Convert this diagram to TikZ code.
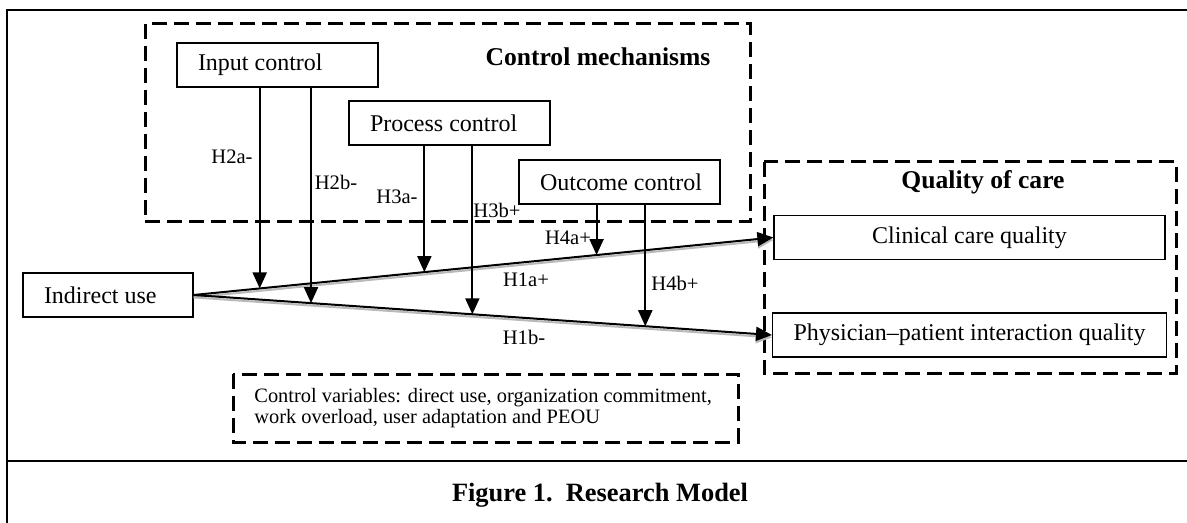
\documentclass[tikz,border=0pt]{standalone}
\usepackage{fontspec}
\setmainfont{Liberation Serif}
\usetikzlibrary{arrows.meta}

\tikzset{
  box/.style={draw, line width=0.6pt, minimum height=22pt, inner xsep=10.5pt, align=flush left},
  dbox/.style={draw, line width=1.5pt, dash pattern=on 7.5pt off 3.5pt},
  arr/.style={line width=1pt, -{Triangle[length=8pt,width=7pt]}},
  shadowline/.style={arr, gray!55, transform canvas={yshift=-1.2pt}},
  hyp/.style={font=\fontsize{10.3}{12}\selectfont},
}

\begin{document}
\begin{tikzpicture}[x=0.5pt, y=-0.5pt, font=\fontsize{12}{14}\selectfont]
      \useasboundingbox (0,0) rectangle (1187,523);

      % 外枠
      \draw[line width=1.2pt] (6.7,523) -- (6.7,10) -- (1187,10);
      \draw[line width=1.2pt] (6.7,461) -- (1187,461);

      \draw[dbox] (145,24) rectangle (750,222);
      \node[font=\bfseries\fontsize{12.8}{14}\selectfont] (cmt) at (598,57) {Control mechanisms};

      \draw[dbox] (764,162) rectangle (1176,373);
      \node[font=\bfseries\fontsize{12.8}{14}\selectfont] (qct) at (983,182) {Quality of care};

      \draw[dbox] (233,374) rectangle (738,442);
      \node[anchor=west, align=left, inner sep=0pt, font=\fontsize{10.2}{10.6}\selectfont] (cv) at (254,408)
        {Control variables: direct use, organization commitment,\\work overload, user adaptation and PEOU};

      \node[box, text width=79.5pt] (ic) at (277.5,65) {\mbox{Input control}};
      \node[box, text width=79.5pt] (pc) at (449.5,123) {\mbox{Process control}};
      \node[box, text width=79.5pt] (oc) at (619.5,182) {\mbox{Outcome control}};
      \node[box, text width=64pt] (iu) at (108,295) {\mbox{Indirect use}};
      \node[box, minimum width=195.5pt, align=center] (ccq) at (969.5,237.5) {Clinical care quality};
      \node[box, minimum width=195.5pt, align=center] (ppi) at (969.5,335) {Physician--patient interaction quality};

      \draw[shadowline] (iu.east) -- (ccq.west);
      \draw[arr] (iu.east) -- (ccq.west);
      \draw[shadowline] (iu.east) -- (ppi.west);
      \draw[arr] (iu.east) -- (ppi.west);

      \path (iu.east) -- (ccq.west) coordinate[pos=0.114] (t2a) coordinate[pos=0.398] (t3a) coordinate[pos=0.695] (t4a);
      \path (iu.east) -- (ppi.west) coordinate[pos=0.203] (t2b) coordinate[pos=0.482] (t3b) coordinate[pos=0.781] (t4b);

      \draw[arr] (ic.south -| t2a) -- (t2a);
      \draw[arr] (ic.south -| t2b) -- (t2b);
      \draw[arr] (pc.south -| t3a) -- (t3a);
      \draw[arr] (pc.south -| t3b) -- (t3b);
      \draw[arr] (oc.south -| t4a) -- (t4a);
      \draw[arr] (oc.south -| t4b) -- (t4b);

      % ラベル
      \node[hyp] (h2a) at (232,157) {H2a-};
      \node[hyp] (h2b) at (336,182) {H2b-};
      \node[hyp] (h3a) at (397,197) {H3a-};
      \node[hyp] (h3b) at (497,210) {H3b+};
      \node[hyp] (h4a) at (568,238) {H4a+};
      \node[hyp] (h1a) at (526,280) {H1a+};
      \node[hyp] (h4b) at (675,283) {H4b+};
      \node[hyp] (h1b) at (524,337) {H1b-};

      \node[font=\bfseries\fontsize{13.2}{15}\selectfont] (cap) at (600,495) {Figure 1.\ \ Research Model};
\end{tikzpicture}
\end{document}
